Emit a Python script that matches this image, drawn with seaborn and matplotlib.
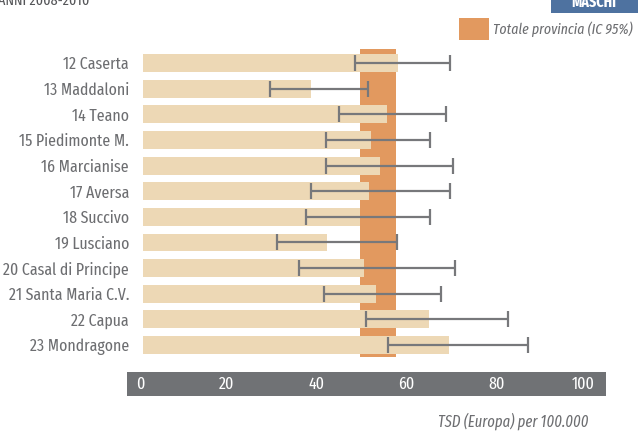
import matplotlib
matplotlib.use("Agg")
import matplotlib.pyplot as plt
import seaborn as sns
import pandas as pd

# Data
districts = ["12 Caserta", "13 Maddaloni", "14 Teano", "15 Piedimonte M.",
             "16 Marcianise", "17 Aversa", "18 Succivo", "19 Lusciano",
             "20 Casal di Principe", "21 Santa Maria C.V.", "22 Capua",
             "23 Mondragone"]
rates = [56.8, 37.5, 54.3, 50.8, 52.8, 50.4, 48.3, 40.9, 49.3, 51.8, 63.7, 68.1]
ci_low = [47.1, 28.3, 43.7, 40.7, 40.7, 37.3, 36.2, 29.8, 34.7, 40.2, 49.6, 54.6]
ci_high = [68.4, 50.1, 67.4, 63.9, 68.9, 68.4, 63.9, 56.5, 69.4, 66.4, 81.3, 85.6]
province_ci = [48.4, 56.2]
x_ticks = [0, 20, 40, 60, 80, 100]

GREY = "#6d6e71"
BAR = "#edd8b5"
BAND = "#e2995f"
ERR = "#77787b"

sns.set_theme(style="white")
plt.rcParams['font.family'] = ['Fira Sans Extra Condensed', 'DejaVu Sans']

df = pd.DataFrame({"district": districts, "rate": rates})

W, H = 638, 432
fig = plt.figure(figsize=(W / 100, H / 100), dpi=100)

# main axes: pixel box x 127-606, y 40-365
ax = fig.add_axes([127 / W, 1 - 365 / H, (606 - 127) / W, (365 - 40) / H])
ax.fill_betweenx([-0.55, 11.47], province_ci[0], province_ci[1],
                 color=BAND, lw=0, zorder=0)
sns.barplot(data=df, y="district", x="rate", orient="h", color=BAR,
            width=0.7, saturation=1, linewidth=0, ax=ax, zorder=2)
ypos = list(range(len(districts)))
ax.errorbar([(l + h) / 2 for l, h in zip(ci_low, ci_high)], ypos,
            xerr=[(h - l) / 2 for l, h in zip(ci_low, ci_high)],
            fmt="none", ecolor=ERR, elinewidth=1.6, capsize=5.5,
            capthick=1.6, zorder=3)
ax.set_xlim(-3.5, 103)
ax.set_ylim(11.78, -0.9)
ax.set_xlabel("")
ax.set_ylabel("")
ax.set_xticks([])
ax.tick_params(axis="y", length=0, pad=-1.5, labelsize=12.4, labelcolor=GREY)
for s in ax.spines.values():
    s.set_visible(False)

# grey axis strip with white tick labels
ax2 = fig.add_axes([127 / W, 1 - 396 / H, (606 - 127) / W, 24 / H])
ax2.set_facecolor("#707275")
ax2.set_xlim(-3.5, 103)
ax2.set_ylim(0, 1)
ax2.set_xticks([])
ax2.set_yticks([])
for s in ax2.spines.values():
    s.set_visible(False)
for t in x_ticks:
    ax2.text(t + 0.4, 0.5, str(t), ha="right", va="center", color="white",
             fontsize=12.5)

fig.text(588 / W, 1 - 421 / H, "TSD (Europa) per 100.000", ha="right",
         va="center", color=GREY, fontsize=11.4, style="italic")

# header
fig.text(-2 / W, 1 - 1 / H, "ANNI 2008-2010", ha="left", va="center",
         color="#555659", fontsize=11)
fig.patches.append(plt.Rectangle((551 / W, 1 - 13 / H), 90 / W, 13 / H,
                                 transform=fig.transFigure, color="#4e72a0",
                                 lw=0))
fig.text(594 / W, 1 - 2 / H, "MASCHI", ha="center", va="center",
         color="white", fontsize=11, weight="bold")

# legend
fig.patches.append(plt.Rectangle((459 / W, 1 - 40 / H), 30 / W, 22 / H,
                                 transform=fig.transFigure, color=BAND, lw=0))
fig.text(633 / W, 1 - 29 / H, "Totale provincia (IC 95%)", ha="right",
         va="center", color=GREY, fontsize=10.8, style="italic")

fig.savefig("out.png", dpi=100)
